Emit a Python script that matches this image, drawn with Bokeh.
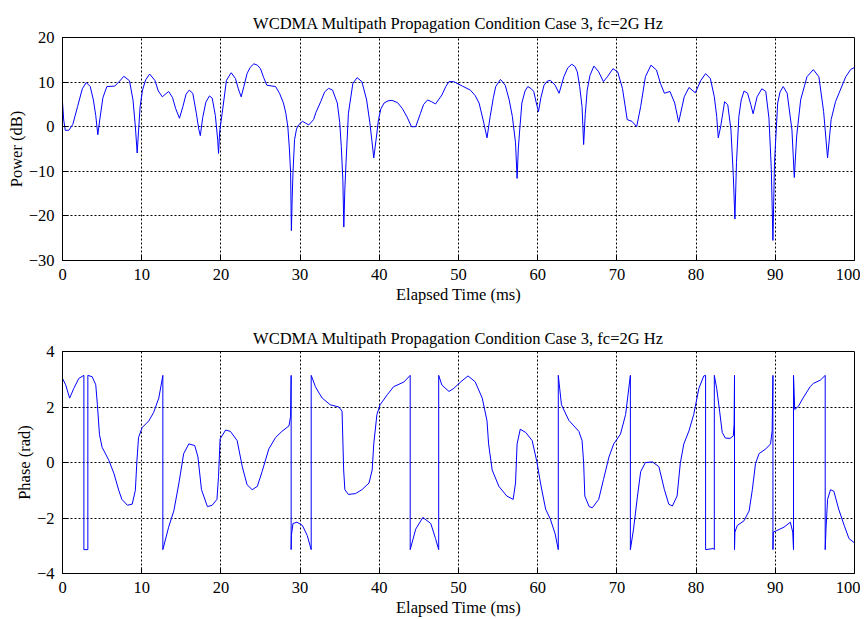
from bokeh.plotting import figure
from bokeh.layouts import column
from bokeh.models import Range1d, SingleIntervalTicker
from bokeh.embed import file_html
from bokeh.resources import INLINE

title_text = "WCDMA Multipath Propagation Condition Case 3, fc=2G Hz"
x_label = "Elapsed Time (ms)"
power_label = "Power (dB)"
phase_label = "Phase (rad)"

t_pow = [0.0, 0.15, 0.35, 0.8, 1.3, 1.9, 2.5, 3.0, 3.5, 3.9, 4.2, 4.46, 4.7, 5.1, 5.6, 6.6, 7.2, 7.74, 8.46, 8.9,
         9.2, 9.43, 9.6, 9.8, 10.1, 10.5, 11.0, 11.66, 12.1, 12.6, 13.4, 13.9, 14.3, 14.77, 15.2, 15.6, 16.0, 16.45,
         16.9, 17.2, 17.4, 17.7, 18.1, 18.56, 18.9, 19.3, 19.6, 19.7, 19.85, 20.16, 20.7, 21.3, 21.84, 22.2, 22.56,
         22.9, 23.3, 23.7, 24.16, 24.6, 25.0, 25.4, 25.8, 26.9, 27.4, 27.9, 28.2, 28.45, 28.65, 28.8, 28.9, 29.0,
         29.1, 29.3, 29.55, 29.8, 30.3, 30.7, 31.1, 31.7, 32.0, 32.6, 33.1, 33.6, 34.1, 34.7, 35.0, 35.2, 35.4,
         35.52, 35.65, 35.8, 36.1, 36.66, 37.2, 37.8, 38.4, 38.8, 39.0, 39.3, 39.65, 39.9, 40.2, 40.6, 41.1, 41.6,
         42.3, 42.9, 43.5, 44.06, 44.6, 45.2, 45.6, 46.1, 46.6, 47.1, 47.9, 48.4, 48.8, 49.4, 50.5, 51.5, 52.1,
         52.6, 53.2, 53.6, 54.0, 54.4, 54.7, 55.3, 55.9, 56.4, 56.8, 57.2, 57.4, 57.55, 57.7, 58.0, 58.4, 58.75,
         59.2, 59.5, 59.8, 60.1, 60.4, 60.8, 61.2, 61.6, 62.2, 62.7, 63.3, 63.8, 64.3, 64.7, 65.0, 65.3, 65.6,
         65.8, 66.0, 66.25, 66.6, 67.1, 67.7, 68.3, 68.8, 69.5, 70.1, 70.7, 71.3, 71.9, 72.5, 73.0, 73.6, 74.3,
         75.0, 75.5, 76.0, 76.7, 77.3, 77.8, 78.5, 79.1, 79.9, 80.6, 81.2, 81.8, 82.3, 82.6, 82.8, 83.1, 83.6,
         84.0, 84.4, 84.7, 84.9, 85.1, 85.4, 85.7, 86.05, 86.5, 86.9, 87.2, 87.7, 88.3, 88.8, 89.2, 89.5, 89.7,
         89.9, 90.3, 90.6, 91.0, 91.5, 92.1, 92.4, 92.7, 93.2, 94.0, 94.8, 95.5, 96.1, 96.6, 97.05, 97.6, 98.2,
         98.9, 99.5, 100.0]
pow_db = [5.5, 1.5, -0.8, -0.8, 0.5, 4.5, 8.5, 9.9, 9.0, 6.0, 2.5, -1.8, 1.5, 6.5, 9.0, 9.1, 10.2, 11.3, 10.3, 6.0,
          0.0, -5.9, -1.0, 4.5, 8.2, 10.5, 11.8, 10.4, 8.0, 6.7, 7.9, 6.5, 4.0, 1.9, 4.5, 7.3, 8.2, 7.5,
          3.0, -0.5, -2.0, 2.0, 5.5, 6.9, 6.4, 2.5, -3.0, -6.0, -1.0, 3.0, 10.4, 12.1, 10.8, 8.5, 6.7,
          9.0, 11.9, 13.3, 14.1, 13.8, 13.0, 11.0, 9.3, 9.0, 7.5, 5.3, 3.0, 0.0, -5.0, -10.3, -23.3, -16.0,
          -10.3, -2.9, -0.5, 0.4, 1.2, 0.8, 0.4, 1.6, 3.2, 5.6, 7.8, 8.6, 8.2, 5.3, 1.0, -4.4, -12.0,
          -22.5, -14.0, -8.0, 3.0, 9.7, 11.0, 10.1, 6.0, 1.0, -2.1, -7.0, -2.1, 1.6, 4.0, 5.3, 5.8, 5.9,
          5.4, 4.1, 2.2, 0.0, 0.0, 3.0, 5.0, 6.0, 5.6, 5.1, 7.1, 9.0, 10.1, 10.1, 9.1, 8.2, 7.0,
          5.3, 0.8, -2.5, 2.3, 6.5, 9.0, 10.6, 9.3, 6.0, 2.3, -3.6, -11.6, -5.0, -1.4, 5.3, 8.0, 9.0,
          8.5, 7.9, 5.5, 3.4, 6.5, 9.3, 10.2, 10.4, 9.3, 7.5, 11.2, 13.2, 14.0, 13.5, 12.3, 9.0, 4.5,
          -4.0, 2.7, 8.2, 11.5, 13.6, 12.3, 10.1, 11.2, 13.0, 12.3, 8.6, 1.6, 1.2, 0.0, 4.5, 11.2, 13.8,
          12.7, 9.7, 7.5, 7.9, 5.3, 1.0, 6.7, 8.8, 7.6, 10.4, 11.9, 10.8, 6.7, 2.3, -2.5, 0.0, 5.6,
          4.9, -0.7, -11.0, -20.7, -8.0, 2.3, 6.0, 8.0, 7.5, 5.0, 2.9, 6.7, 8.5, 7.9, 1.9, -9.6, -25.5,
          -8.0, 5.3, 7.8, 9.0, 7.5, -0.7, -11.4, -2.1, 6.0, 11.2, 12.8, 11.2, 3.4, -7.0, 1.6, 5.6, 8.2,
          11.2, 12.8, 13.3]

t_ph = [0.0, 0.4, 0.9, 1.43, 2.06, 2.7, 2.7, 3.2, 3.2, 3.75, 4.2, 4.4, 4.67, 5.0, 5.85, 6.5, 7.1, 7.5, 8.2, 8.8,
        9.2, 9.4, 9.6, 10.06, 10.9, 11.5, 12.16, 12.67, 12.67, 13.4, 14.06, 14.7, 15.3, 15.95, 16.7, 17.1, 17.55,
        18.3, 18.9, 19.5, 19.7, 19.9, 20.6, 21.2, 22.05, 22.7, 23.3, 23.95, 24.6, 25.2, 26.05, 26.9, 27.7, 28.6,
        28.8, 28.87, 28.87, 28.9, 29.1, 29.6, 30.3, 30.9, 31.4, 31.4, 31.94, 32.4, 32.8, 33.8, 34.9, 35.3, 35.5,
        35.65, 36.1, 37.0, 37.8, 38.7, 39.1, 39.3, 39.7, 40.1, 41.0, 41.8, 43.1, 43.9, 43.9, 44.6, 45.5, 46.5,
        47.1, 47.5, 47.5, 47.9, 48.8, 49.4, 50.3, 51.2, 52.1, 53.0, 53.6, 53.8, 54.25, 55.1, 56.1, 56.9, 57.2,
        57.4, 57.8, 58.5, 59.3, 59.9, 60.35, 61.0, 61.6, 62.2, 62.6, 62.6, 63.0, 63.93, 65.2, 65.6, 65.8, 65.95,
        66.5, 66.9, 67.7, 68.3, 69.0, 69.6, 70.45, 71.1, 71.7, 71.7, 72.1, 72.6, 73.0, 73.6, 74.5, 75.3, 76.0,
        76.55, 77.0, 77.6, 78.0, 78.45, 79.1, 79.7, 79.9, 80.35, 80.97, 81.2, 81.2, 82.2, 82.3, 82.3, 82.6,
        82.97, 83.3, 83.7, 84.3, 84.7, 84.8, 84.85, 84.85, 84.9, 85.2, 86.05, 86.7, 87.1, 87.5, 87.95, 88.8,
        89.4, 89.6, 89.7, 89.7, 89.75, 90.2, 91.1, 91.9, 92.2, 92.3, 92.3, 92.45, 92.9, 93.5, 94.4, 94.8, 95.7,
        96.3, 96.3, 96.4, 96.6, 96.97, 97.4, 98.0, 98.7, 99.3, 100.0]
ph = [3.03, 2.8, 2.32, 2.67, 3.03, 3.14, -3.14, -3.14, 3.14, 3.09, 2.8, 2.1, 1.0, 0.55, 0.08, -0.4, -1.0, -1.33,
      -1.54, -1.5, -1.0, 0.08, 0.9, 1.26, 1.5, 1.8, 2.32, 3.14, -3.14, -2.33, -1.74, -0.74, 0.32, 0.67, 0.61, 0.2,
      -0.98, -1.59, -1.54, -1.33, -0.5, 0.85, 1.17, 1.12, 0.79, -0.15, -0.8, -0.98, -0.86, -0.33, 0.49, 0.9, 1.12,
      1.32, 1.67, 3.14, -3.14, -2.63, -2.2, -2.15, -2.27, -2.63, -3.14, 3.14, 2.73, 2.5, 2.32, 2.08, 2.0, 1.85,
      -0.27, -0.98, -1.15, -1.12, -0.98, -0.74, -0.27, 0.67, 1.73, 2.08, 2.44, 2.73, 2.9, 3.14, -3.14, -2.4,
      -1.98, -2.2, -2.74, -3.14, 3.14, 2.79, 2.56, 2.67, 2.91, 3.12, 2.91, 2.32, 1.5, 0.67, -0.27, -0.86, -1.21,
      -1.33, -0.74, 0.67, 1.2, 1.08, 0.79, 0.02, -0.74, -1.68, -2.04, -2.57, -3.14, 3.14, 2.08, 1.52, 1.12, 0.79,
      0.0, -1.21, -1.59, -1.63, -1.33, -0.62, 0.2, 0.67, 1.02, 1.73, 3.14, -3.14, -2.4, -1.21, -0.33, 0.0, 0.02,
      -0.15, -0.98, -1.5, -1.57, -1.21, -0.04, 0.67, 1.14, 1.73, 2.02, 2.67, 3.12, 3.14, -3.14, -3.1, -3.14,
      3.14, 2.67, 1.85, 1.08, 0.88, 0.87, 0.96, 1.38, 3.14, -3.14, -2.51, -2.27, -2.1, -1.74, -0.98, -0.04, 0.32,
      0.49, 0.67, 1.14, 3.14, -3.14, -2.51, -2.45, -2.33, -2.15, -2.51, -3.14, 3.14, 1.91, 2.02, 2.32, 2.73,
      2.85, 2.97, 3.14, -3.14, -2.4, -1.33, -0.98, -1.04, -1.68, -2.27, -2.74, -2.9]

FONT = "Liberation Serif"
FS = "16.5px"


def style_axis(ax):
    ax.major_label_text_font = FONT
    ax.major_label_text_font_size = FS
    ax.major_label_text_color = "black"
    ax.axis_label_text_font = FONT
    ax.axis_label_text_font_size = FS
    ax.axis_label_text_font_style = "normal"
    ax.axis_label_text_color = "black"
    ax.major_tick_in = 6
    ax.major_tick_out = 0
    ax.minor_tick_line_color = None
    ax.major_tick_line_color = "black"
    ax.axis_line_color = "black"
    ax.major_label_standoff = 4
    ax.axis_label_standoff = 2


def make_fig(height, top, bottom, y0, y1, ystep, ylabel, tstand):
    p = figure(width=860, height=height, output_backend="svg", toolbar_location=None,
               x_range=Range1d(0, 100), y_range=Range1d(y0, y1),
               min_border_left=62, min_border_right=6, min_border_top=top, min_border_bottom=bottom,
               title=title_text)
    p.title.text_font = FONT
    p.title.text_font_size = FS
    p.title.text_font_style = "normal"
    p.title.align = "center"
    p.title.text_color = "black"
    p.title.standoff = tstand
    p.background_fill_color = "white"
    p.border_fill_color = "white"
    p.outline_line_color = "black"
    p.outline_line_width = 1
    p.xaxis.ticker = SingleIntervalTicker(interval=10)
    p.yaxis.ticker = SingleIntervalTicker(interval=ystep)
    p.xaxis.axis_label = x_label
    p.yaxis.axis_label = ylabel
    style_axis(p.xaxis[0])
    style_axis(p.yaxis[0])
    p.yaxis.axis_label_standoff = 0
    p.grid.grid_line_color = "black"
    p.grid.grid_line_dash = "2 2"
    p.grid.grid_line_width = 1
    return p


p1 = make_fig(306, 37, 44, -30, 20, 10, power_label, 10)
p1.line(t_pow, pow_db, line_color="#0000FF", line_width=1)

p2 = make_fig(313, 45, 42, -4, 4, 2, phase_label, 7)
p2.line(t_ph, ph, line_color="#0000FF", line_width=1)

layout = column(p1, p2, spacing=0)
open("out.html", "w").write(file_html(layout, INLINE))
